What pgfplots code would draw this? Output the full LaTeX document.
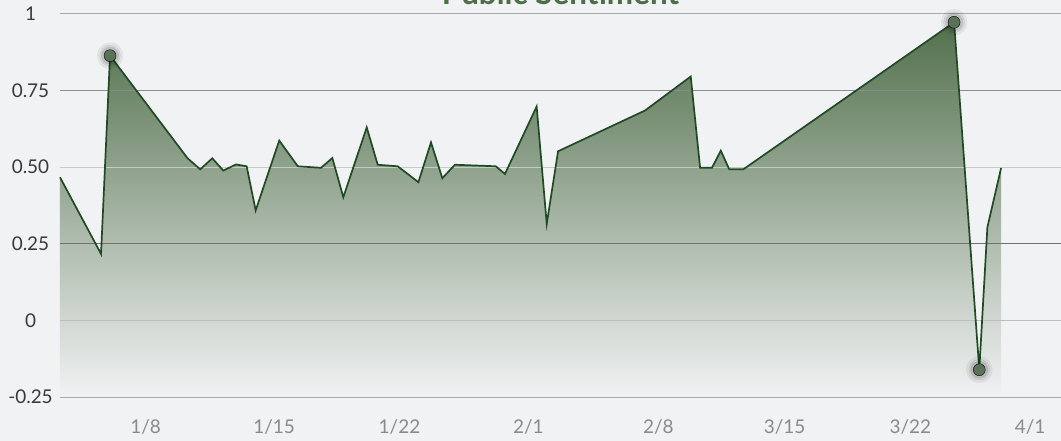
\documentclass[border=0pt]{standalone}
\usepackage{fontspec}
\setmainfont{Lato}
\usepackage{pgfplots}
\pgfplotsset{compat=1.18}
\definecolor{bgc}{HTML}{F1F2F4}
\definecolor{linegreen}{HTML}{1F4A22}
\definecolor{topfill}{HTML}{52704C}
\definecolor{titlec}{HTML}{4E6D49}
\definecolor{markc}{HTML}{5A7357}
\definecolor{ytc}{HTML}{3A3A3A}
\definecolor{xtc}{HTML}{8A8A8A}
\definecolor{gA}{HTML}{A9A9A9}
\definecolor{gB}{HTML}{8C8C8C}
\definecolor{gC}{HTML}{C9C9C9}
\definecolor{gD}{HTML}{707070}
\definecolor{gE}{HTML}{BDBDBD}
\definecolor{gF}{HTML}{ABABAB}
\begin{document}
\begin{tikzpicture}
\fill[bgc] (-60bp,-44bp) rectangle (1001bp,397bp);
\begin{axis}[at={(0,0)}, anchor=south west, scale only axis,
  width=1001bp, height=383bp,
  xmin=0, xmax=55.61, ymin=-0.25, ymax=1,
  clip=false,
  axis line style={draw=none}, tick style={draw=none},
  ytick={-0.25,0,0.25,0.5,0.75,1},
  yticklabels={-0.25,0,0.25,0.50,0.75,1},
  yticklabel style={anchor=center, xshift=-29.5bp, font=\fontsize{19}{22}\selectfont, text=ytc},
  xtick={4.76,11.89,18.86,26.02,33.24,40.26,47.24,53.89},
  xticklabels={1/8,1/15,1/22,2/1,2/8,3/15,3/22,4/1},
  xticklabel style={anchor=center, yshift=-30bp, font=\fontsize{19}{22}\selectfont, text=xtc},
]
\addplot[draw=none, top color=topfill, bottom color=bgc] coordinates {
(0,-0.25) (0,0.467) (2.28,0.217) (2.78,0.864) (7.09,0.529) (7.79,0.493) (8.46,0.529)
(9.07,0.489) (9.78,0.509) (10.37,0.503) (10.87,0.359) (12.18,0.587) (13.21,0.503)
(14.50,0.498) (15.13,0.530) (15.74,0.402) (17.04,0.630) (17.65,0.508) (18.76,0.503)
(19.91,0.451) (20.61,0.581) (21.24,0.464) (21.94,0.508) (24.21,0.503) (24.72,0.478)
(26.48,0.698) (27.04,0.315) (27.67,0.552) (32.50,0.685) (35.04,0.796) (35.56,0.498)
(36.22,0.498) (36.71,0.554) (37.18,0.493) (37.96,0.493) (49.67,0.973) (51.07,-0.161)
(51.52,0.304) (52.28,0.497) (52.28,-0.25)} -- cycle;
\draw[gA, line width=1bp] (axis cs:0,1) -- (axis cs:55.61,1);
\draw[gB, line width=1bp] (axis cs:0,0.75) -- (axis cs:55.61,0.75);
\draw[gC, line width=1bp] (axis cs:0,0.5) -- (axis cs:55.61,0.5);
\draw[gD, line width=1.2bp] (axis cs:0,0.25) -- (axis cs:55.61,0.25);
\draw[gE, line width=1bp] (axis cs:0,0) -- (axis cs:55.61,0);
\draw[gF, line width=1bp] (axis cs:0,-0.25) -- (axis cs:55.61,-0.25);
\addplot[linegreen, line width=1.7bp, mark=none] coordinates {
(0,0.467) (2.28,0.217) (2.78,0.864) (7.09,0.529) (7.79,0.493) (8.46,0.529)
(9.07,0.489) (9.78,0.509) (10.37,0.503) (10.87,0.359) (12.18,0.587) (13.21,0.503)
(14.50,0.498) (15.13,0.530) (15.74,0.402) (17.04,0.630) (17.65,0.508) (18.76,0.503)
(19.91,0.451) (20.61,0.581) (21.24,0.464) (21.94,0.508) (24.21,0.503) (24.72,0.478)
(26.48,0.698) (27.04,0.315) (27.67,0.552) (32.50,0.685) (35.04,0.796) (35.56,0.498)
(36.22,0.498) (36.71,0.554) (37.18,0.493) (37.96,0.493) (49.67,0.973) (51.07,-0.161)
(51.52,0.304) (52.28,0.497)};
\addplot[only marks, mark=*, mark size=13bp, mark options={draw=none, fill=black, opacity=0.05}] coordinates {(2.78,0.864) (49.67,0.973) (51.07,-0.161)};
\addplot[only marks, mark=*, mark size=10.5bp, mark options={draw=none, fill=black, opacity=0.07}] coordinates {(2.78,0.864) (49.67,0.973) (51.07,-0.161)};
\addplot[only marks, mark=*, mark size=8.5bp, mark options={draw=none, fill=black, opacity=0.09}] coordinates {(2.78,0.864) (49.67,0.973) (51.07,-0.161)};
\addplot[only marks, mark=*, mark size=6bp, mark options={draw=none, fill=markc}] coordinates {(2.78,0.864) (49.67,0.973) (51.07,-0.161)};
\end{axis}
\node[anchor=base, text=titlec, font=\bfseries\fontsize{31.5}{36}\selectfont] at (500.5bp,392bp) {Public Sentiment};
\pgfresetboundingbox
\useasboundingbox (-60bp,-44bp) rectangle (1001bp,397bp);
\end{tikzpicture}
\end{document}
